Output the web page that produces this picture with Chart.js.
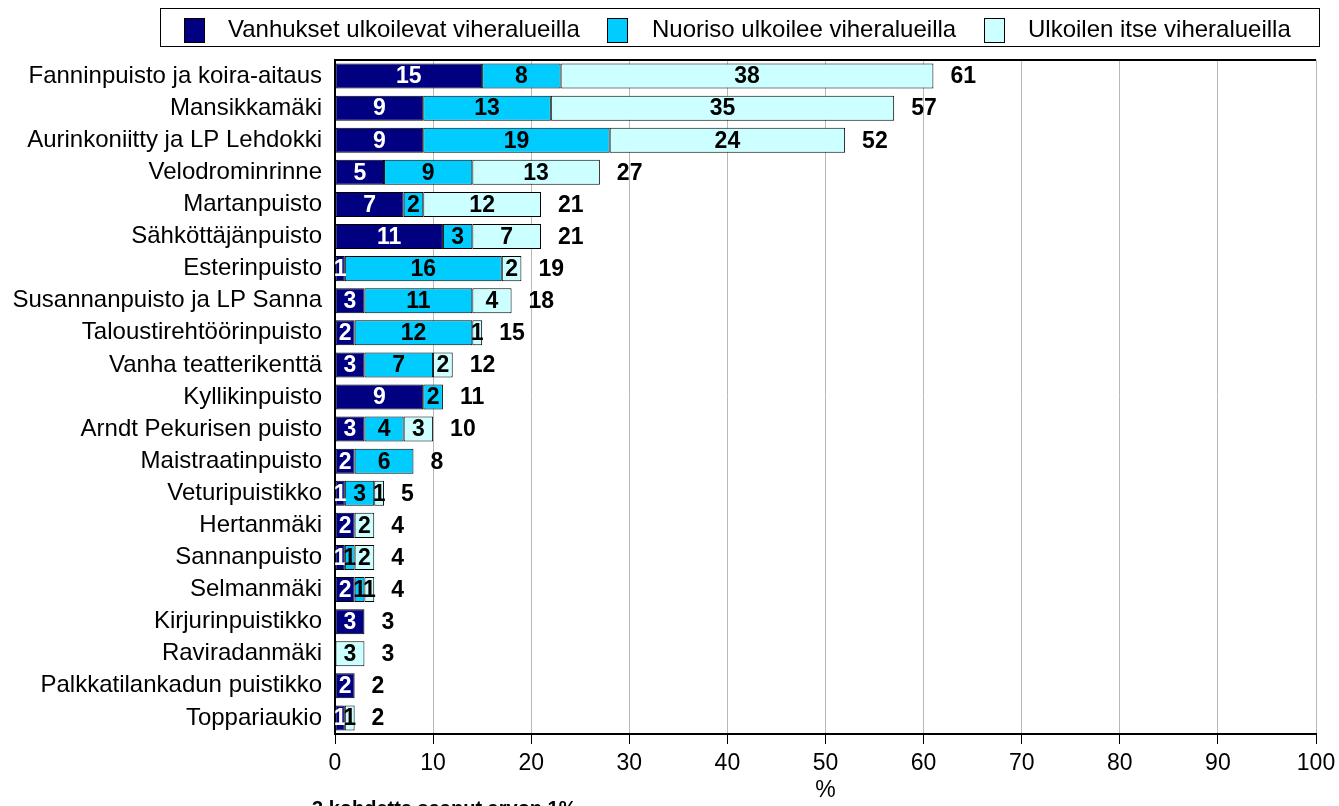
<!DOCTYPE html>
<html>
<head>
<meta charset="utf-8">
<script src="https://cdn.jsdelivr.net/npm/chart.js@4.4.0/dist/chart.umd.min.js"></script>
<style>
  body { margin: 0; background: #fff; font-family: "Liberation Sans", Arial, sans-serif; }
  #wrap { position: relative; width: 1339px; height: 806px; overflow: hidden; }
  #legend { position: absolute; left: 160px; top: 8px; width: 1160px; height: 39px; border: 1.5px solid #000; box-sizing: border-box; }
  .sw { position: absolute; top: 9px; width: 21px; height: 25px; border: 1px solid #000; box-sizing: border-box; }
  .lt { position: absolute; top: 6px; font-size: 24px; line-height: 28px; color: #000; white-space: nowrap; }
</style>
</head>
<body>
<div id="wrap">
  <canvas id="myChart" width="1339" height="806"></canvas>
  <div id="legend"></div>
</div>
<script>
// Categories and values (% of answers)
const categories = ['Fanninpuisto ja koira-aitaus', 'Mansikkamäki', 'Aurinkoniitty ja LP Lehdokki', 'Velodrominrinne',
  'Martanpuisto', 'Sähköttäjänpuisto', 'Esterinpuisto', 'Susannanpuisto ja LP Sanna', 'Taloustirehtöörinpuisto',
  'Vanha teatterikenttä', 'Kyllikinpuisto', 'Arndt Pekurisen puisto', 'Maistraatinpuisto', 'Veturipuistikko',
  'Hertanmäki', 'Sannanpuisto', 'Selmanmäki', 'Kirjurinpuistikko', 'Raviradanmäki', 'Palkkatilankadun puistikko', 'Toppariaukio'];
const elderly = [15, 9, 9, 5, 7, 11, 1, 3, 2, 3, 9, 3, 2, 1, 2, 1, 2, 3, 0, 2, 1];
const youth   = [8, 13, 19, 9, 2, 3, 16, 11, 12, 7, 2, 4, 6, 3, 0, 1, 1, 0, 0, 0, 0];
const myself  = [38, 35, 24, 13, 12, 7, 2, 4, 1, 2, 0, 3, 0, 1, 2, 2, 1, 0, 3, 0, 1];
const totals  = [61, 57, 52, 27, 21, 21, 19, 18, 15, 12, 11, 10, 8, 5, 4, 4, 4, 3, 3, 2, 2];

const seriesNames = ['Vanhukset ulkoilevat viheralueilla', 'Nuoriso ulkoilee viheralueilla', 'Ulkoilen itse viheralueilla'];
const seriesColors = ['#000080', '#00ccff', '#ccffff'];

const FONT = '"Liberation Sans", Arial, sans-serif';

// HTML legend with a box round it
const legendPos = [[23, 67], [446, 491], [823, 867]];
const legendEl = document.getElementById('legend');
seriesNames.forEach((name, i) => {
  const sw = document.createElement('div');
  sw.className = 'sw';
  sw.style.left = legendPos[i][0] + 'px';
  sw.style.background = seriesColors[i];
  legendEl.appendChild(sw);
  const t = document.createElement('div');
  t.className = 'lt';
  t.style.left = legendPos[i][1] + 'px';
  t.textContent = name;
  legendEl.appendChild(t);
});

// Numbers inside the segments, totals after the bars, top border and footnote
const barLabels = {
  id: 'barLabels',
  afterDatasetsDraw(chart) {
    const ctx = chart.ctx;
    ctx.save();
    ctx.font = 'bold 23px ' + FONT;
    ctx.textAlign = 'center';
    ctx.textBaseline = 'middle';
    chart.data.datasets.forEach((ds, i) => {
      chart.getDatasetMeta(i).data.forEach((bar, j) => {
        const v = ds.data[j];
        if (!v) return;
        ctx.fillStyle = i === 0 ? '#fff' : '#000';
        ctx.fillText(v, (bar.x + bar.base) / 2, bar.y + 1);
      });
    });
    const xs = chart.scales.x;
    const meta0 = chart.getDatasetMeta(0);
    ctx.textAlign = 'left';
    ctx.fillStyle = '#000';
    totals.forEach((t, j) => {
      ctx.fillText(t, xs.getPixelForValue(t) + 17, meta0.data[j].y + 1);
    });
    const a = chart.chartArea;
    ctx.strokeStyle = '#000';
    ctx.lineWidth = 2;
    ctx.beginPath();
    ctx.moveTo(a.left - 1, a.top);
    ctx.lineTo(a.right, a.top);
    ctx.stroke();
    ctx.restore();
  },
  afterDraw(chart) {
    const ctx = chart.ctx;
    ctx.save();
    ctx.font = 'bold 20px ' + FONT;
    ctx.fillStyle = '#000';
    ctx.textAlign = 'left';
    ctx.textBaseline = 'alphabetic';
    ctx.fillText('3 kohdetta saanut arvon 1%', 312, 815);
    ctx.restore();
  }
};

const ctx = document.getElementById('myChart').getContext('2d');

const chart = new Chart(ctx, {
  type: 'bar',
  data: {
    labels: categories,
    datasets: [elderly, youth, myself].map((d, i) => ({
      label: seriesNames[i],
      data: d,
      backgroundColor: seriesColors[i],
      borderColor: '#000',
      borderWidth: 1,
      borderSkipped: false,
      barPercentage: 0.78,
      categoryPercentage: 1
    }))
  },
  options: {
    indexAxis: 'y',
    responsive: false,
    animation: false,
    layout: { padding: { top: 60, right: 23, bottom: 0, left: 0 } },
    plugins: {
      legend: { display: false },
      tooltip: { enabled: false }
    },
    scales: {
      x: {
        stacked: true,
        min: 0,
        max: 100,
        ticks: { stepSize: 10, color: '#000', font: { family: FONT, size: 23 }, padding: 6 },
        grid: { color: '#b8b8b8', tickColor: '#000', tickLength: 10, lineWidth: 1 },
        border: { color: '#000', width: 2 },
        title: { display: true, text: '%', color: '#000', font: { family: FONT, size: 23 }, padding: { top: 0, bottom: 2 } },
        afterFit(scale) {
          scale.height = 72;
          scale.paddingLeft = 0;
          scale.paddingRight = 0;
        }
      },
      y: {
        stacked: true,
        ticks: { color: '#000', font: { family: FONT, size: 24 }, padding: 13, autoSkip: false },
        grid: { display: false, drawTicks: false },
        border: { color: '#000', width: 2 },
        afterFit(scale) { scale.width = 335; }
      }
    }
  },
  plugins: [barLabels]
});
</script>
</body>
</html>
